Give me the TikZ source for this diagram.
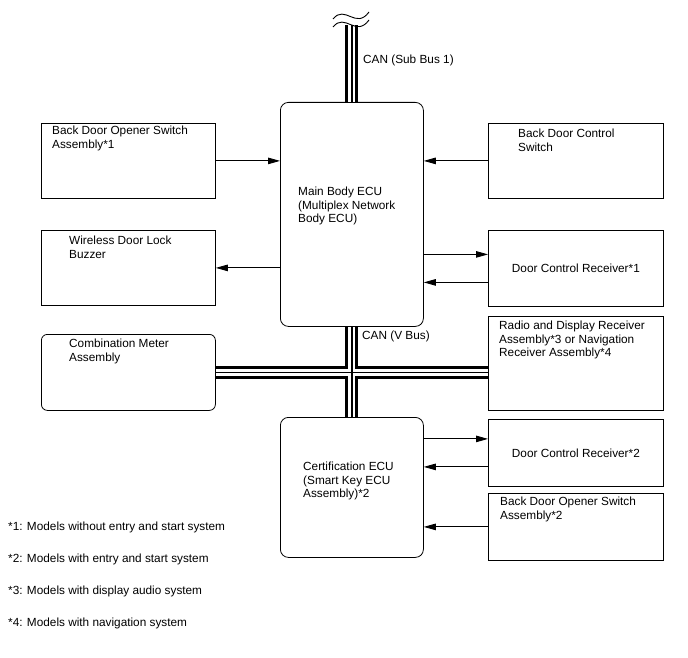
\documentclass[tikz,border=0pt]{standalone}
\usepackage{fontspec}
\setmainfont{Liberation Sans}
\usetikzlibrary{arrows.meta,positioning,calc}

\begin{document}
\begin{tikzpicture}[
  x=1pt, y=-1pt,
  >={Triangle[length=12pt,width=6.5pt]},
  every node/.style={font=\fontsize{11.8}{13.6}\selectfont},
  unit/.style={draw, line width=0.8pt, anchor=north west, inner sep=0pt},
  ecu/.style={unit, rounded corners=8pt},
  txt/.style={anchor=north west, inner sep=0pt, align=left},
  note/.style={anchor=west, inner sep=0pt},
  sig/.style={->, line width=0.9pt},
  busouter/.style={line width=13pt},
  businner/.style={line width=7pt, white},
  buscore/.style={line width=1.2pt}
]
\useasboundingbox (0,0) rectangle (688,658);

% ECUs
\node[ecu, minimum width=143pt, minimum height=224pt] (mbecu) at (280,102) {};
\node[ecu, minimum width=143pt, minimum height=140pt] (cert) at (280,417) {};

% left column
\node[unit, minimum width=174pt, minimum height=75pt] (bdos1) at (41,123) {};
\node[unit, minimum width=174pt, minimum height=75pt] (buzzer) at (41,230) {};
\node[unit, rounded corners=6pt, minimum width=174pt, minimum height=76pt] (meter) at (41,334) {};

% right column
\node[unit, minimum width=175pt, minimum height=75pt] (bdcs) at (488,123) {};
\node[unit, minimum width=175pt, minimum height=76pt] (dcr1) at (488,230) {Door Control Receiver*1};
\node[unit, minimum width=175pt, minimum height=94pt] (radio) at (488,316) {};
\node[unit, minimum width=175pt, minimum height=67pt] (dcr2) at (488,419) {Door Control Receiver*2};
\node[unit, minimum width=175pt, minimum height=67pt] (bdos2) at (488,493) {};

% box texts
\node[txt] (mbecu-t) at (298,187) {Main Body ECU\\(Multiplex Network\\Body ECU)};
\node[txt] (cert-t) at (303,462) {Certification ECU\\(Smart Key ECU\\Assembly)*2};
\node[txt] (bdos1-t) at (52,126) {Back Door Opener Switch\\Assembly*1};
\node[txt] (buzzer-t) at (69,236) {Wireless Door Lock\\Buzzer};
\node[txt] (meter-t) at (69,339) {Combination Meter\\Assembly};
\node[txt] (bdcs-t) at (518,129) {Back Door Control\\Switch};
\node[txt] (radio-t) at (499,321) {Radio and Display Receiver\\Assembly*3 or Navigation\\Receiver Assembly*4};
\node[txt] (bdos2-t) at (500,497) {Back Door Opener Switch\\Assembly*2};

% CAN buses
\coordinate (subbus) at ([yshift=77pt]mbecu.north);
\foreach \layer in {busouter,businner,buscore}
  \draw[\layer] (mbecu.north) -- (subbus)
                (mbecu.south) -- (cert.north)
                (meter.east) -- (meter.east -| radio.west);
\draw[line width=0.9pt] (333,19) .. controls (345,4) and (356,30) .. (369,12);
\draw[line width=0.9pt] (333,27) .. controls (345,12) and (356,38) .. (369,20);
\node[note] (subbus-l) at (363,60) {CAN (Sub Bus 1)};
\node[note] (vbus-l) at (362,336) {CAN (V Bus)};

% signal lines
\coordinate (d1a) at ([yshift=14pt]dcr1.west);
\coordinate (d1b) at ([yshift=-14pt]dcr1.west);
\coordinate (d2a) at ([yshift=14pt]dcr2.west);
\coordinate (d2b) at ([yshift=-14pt]dcr2.west);
\draw[sig] (bdos1.east) -- (bdos1.east -| mbecu.west);
\draw[sig] (bdcs.west) -- (bdcs.west -| mbecu.east);
\draw[sig] (buzzer.east -| mbecu.west) -- (buzzer.east);
\draw[sig] (d1a -| mbecu.east) -- (d1a);
\draw[sig] (d1b) -- (d1b -| mbecu.east);
\draw[sig] (d2a -| cert.east) -- (d2a);
\draw[sig] (d2b) -- (d2b -| cert.east);
\draw[sig] (bdos2.west) -- (bdos2.west -| cert.east);

% footnotes
\node[note] (fn1) at (8,527) {*1: Models without entry and start system};
\node[note] (fn2) at (8,559) {*2: Models with entry and start system};
\node[note] (fn3) at (8,591) {*3: Models with display audio system};
\node[note] (fn4) at (8,623) {*4: Models with navigation system};
\end{tikzpicture}
\end{document}
